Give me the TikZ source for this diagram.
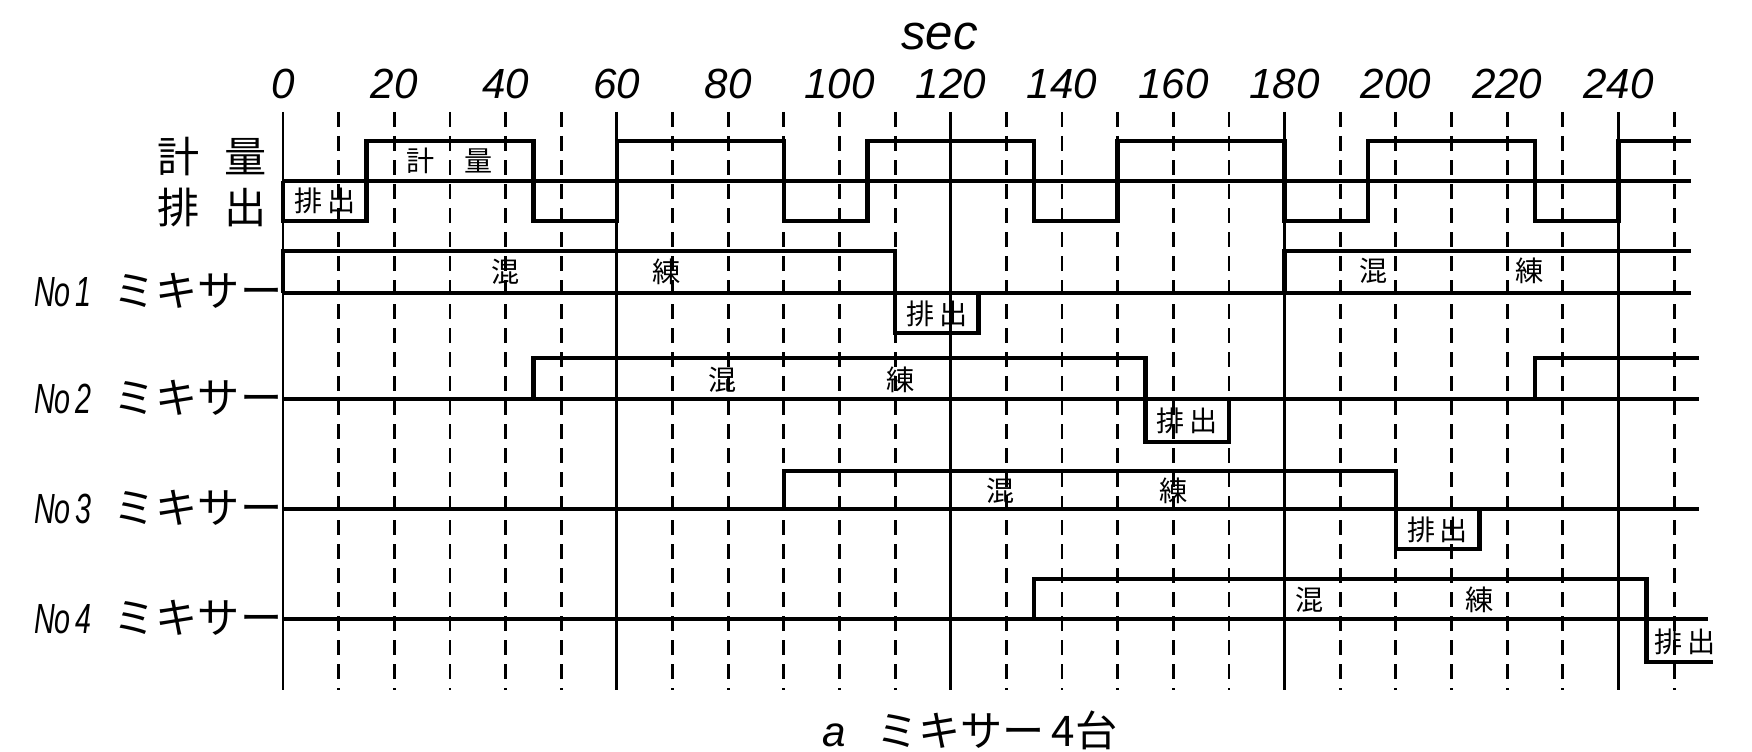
\documentclass[tikz,border=0pt]{standalone}
\usepackage{fontspec}
\setmainfont{Liberation Sans}
\newfontfamily\jp{Noto Sans CJK JP}
\newcommand\lat[1]{{\rmfamily\itshape #1}}
\newcommand\mixno[1]{\scalebox{.68}[1]{\lat{No\,#1}}}
\usetikzlibrary{positioning}
\tikzset{trace/.style={line width=1.3pt,line join=miter},
 grid/.style={line width=.8pt},dgrid/.style={grid,dash pattern=on 1.5mm off .9mm},
 num/.style={font=\fontsize{12}{12}\selectfont\itshape,inner sep=0pt},
 lab/.style={font=\fontsize{12}{12}\selectfont\jp,inner sep=0pt},
 boxlab/.style={font=\fontsize{8}{8}\selectfont\jp,inner sep=0pt}}
\begin{document}
\begin{tikzpicture}[x=0.5564mm,y=-0.1mm]
\useasboundingbox (-50.86,0) rectangle (264.0,751);
% time grid
\foreach \t in {10,20,30,40,50,70,80,90,100,110,130,140,150,160,170,190,200,210,220,230,250}
 \draw[dgrid] (\t,112)--(\t,690);
\foreach \t in {0,60,...,240} \draw[grid] (\t,112)--(\t,690);
\foreach \t in {0,20,...,240} \node[num] (n\t) at (\t,84) {\t};
\node[font=\fontsize{14}{14}\selectfont\itshape] (sec) at (118,37) {sec};
% weighing / discharge
\node[lab] (kei) at (-12.8,157) {計\hspace{2.5mm}量};
\node[lab] (hai) at (-12.8,207) {排\hspace{2.5mm}出};
\draw[trace] (0,181)--(253,181);
\draw[trace] (0,181)--(0,221)--(15,221)--(15,141)--(45,141)--(45,221)--(60,221)--(60,141)--(90,141)
 --(90,221)--(105,221)--(105,141)--(135,141)--(135,221)--(150,221)--(150,141)--(180,141)--(180,221)
 --(195,221)--(195,141)--(225,141)--(225,221)--(240,221)--(240,141)--(253,141);
\node[boxlab] (h0) at (7.5,201) {排\,出};
\node[boxlab] (k0) at (30,161) {計\hspace{3mm}量};
% mixers
\node[lab,anchor=east] (m1) at (0,291) {\mixno{1}\hspace{2.2mm}ミキサー};
\node[lab,anchor=east] (m2) at (0,398) {\mixno{2}\hspace{2.2mm}ミキサー};
\node[lab,anchor=east] (m3) at (0,508) {\mixno{3}\hspace{2.2mm}ミキサー};
\node[lab,anchor=east] (m4) at (0,618) {\mixno{4}\hspace{2.2mm}ミキサー};
\draw[trace] (0,293)--(253,293);
\draw[trace] (0,293)--(0,251)--(110,251)--(110,333)--(125,333)--(125,293);
\draw[trace] (180,293)--(180,251)--(253,251);
\draw[trace] (0,399)--(254.5,399);
\draw[trace] (45,399)--(45,358)--(155,358)--(155,442)--(170,442)--(170,399);
\draw[trace] (225,399)--(225,358)--(254.5,358);
\draw[trace] (0,509)--(254.5,509);
\draw[trace] (90,509)--(90,471)--(200,471)--(200,549)--(215,549)--(215,509);
\draw[trace] (0,619)--(256,619);
\draw[trace] (135,619)--(135,579)--(245,579)--(245,662)--(257,662);
\node[boxlab] (a1) at (40,272) {混};\node[boxlab] (b1) at (69,272) {練};
\node[boxlab] (c1) at (117.5,314) {排\,出};
\node[boxlab] (d1) at (196,271) {混};\node[boxlab] (e1) at (224,271) {練};
\node[boxlab] (a2) at (79,380) {混};\node[boxlab] (b2) at (111,380) {練};
\node[boxlab] (c2) at (162.5,421) {排\,出};
\node[boxlab] (a3) at (129,491) {混};\node[boxlab] (b3) at (160,491) {練};
\node[boxlab] (c3) at (207.5,530) {排\,出};
\node[boxlab] (a4) at (184.5,600) {混};\node[boxlab] (b4) at (215,600) {練};
\node[boxlab] (c4) at (252,642) {排\,出};
\node[lab] (cap) at (123.5,730) {\lat{a}\hspace{3mm}ミキサー\,4台};
\end{tikzpicture}
\end{document}
